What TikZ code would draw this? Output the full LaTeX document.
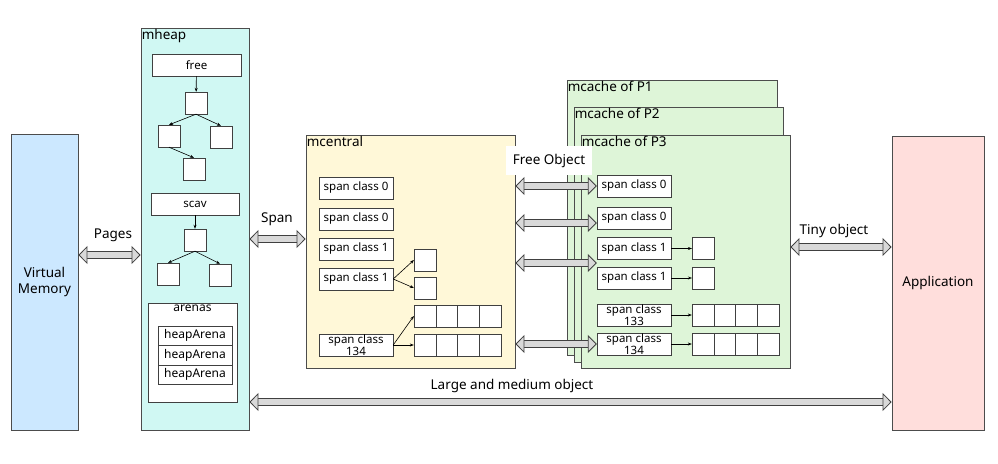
\documentclass[tikz,border=0pt]{standalone}
\usepackage{fontspec}
\setmainfont{Noto Sans}
\usetikzlibrary{arrows.meta}

\definecolor{vmblue}{HTML}{CCE8FF}
\definecolor{heapcyan}{HTML}{D0F8F3}
\definecolor{centralyellow}{HTML}{FFF8D8}
\definecolor{cachegreen}{HTML}{DEF5D8}
\definecolor{apppink}{HTML}{FFDEDC}
\definecolor{arrowgray}{HTML}{D9D9D9}

\begin{document}
\begin{tikzpicture}[x=1pt, y=-1pt,
    box/.style={draw=black!75, fill=white, inner sep=0pt, font=\fontsize{11.5}{11}\selectfont},
    spanbox/.style={box, minimum width=74pt, minimum height=22pt, align=center},
    cell/.style={box, minimum width=21.75pt, minimum height=22pt},
    area/.style={draw=black!70, line width=0.8pt, inner sep=0pt, align=center, font=\fontsize{13.5}{16}\selectfont},
    title/.style={anchor=north west, inner sep=1pt, font=\fontsize{13.5}{15}\selectfont},
    fat/.style={draw=black!75, line width=0.8pt, double=arrowgray, double distance=6pt,
        {Triangle[open, fill=arrowgray, length=9pt, width=18pt, line width=0.8pt]}-{Triangle[open, fill=arrowgray, length=9pt, width=18pt, line width=0.8pt]}},
    link/.style={draw=black, line width=0.6pt, -{Stealth[length=4pt, width=3pt]}},
    arrowtext/.style={inner sep=1pt, font=\fontsize{13.5}{15}\selectfont}]

    \useasboundingbox (0,0) rectangle (998,463);

    % outer memory and application
    \node[area, fill=vmblue, minimum width=67pt, minimum height=296pt] (vm) at (44.5,282) {Virtual\\Memory};
    \node[area, fill=apppink, minimum width=92pt, minimum height=294pt] (app) at (938,283) {Application};

    % mheap
    \node[area, fill=heapcyan, minimum width=108pt, minimum height=402pt,
        label={[title]north west:mheap}] (mheap) at (195,229) {};
    \node[box, minimum width=89pt, minimum height=22pt] (free) at (196.5,65) {free};
    \node[cell, minimum width=22pt] (f1) at (196,103) {};
    \node[cell, minimum width=22pt] (f2) at (169,136) {};
    \node[cell, minimum width=22pt] (f3) at (221,137) {};
    \node[cell, minimum width=22pt] (f4) at (194,169) {};
    \draw[link] (free) -- (f1);
    \draw[link] (f1.south) -- (f2.north);
    \draw[link] (f1.south) -- (f3.north);
    \draw[link] (f2.south) -- (f4.north);

    \node[box, minimum width=88pt, minimum height=22pt] (scav) at (195,204) {scav};
    \node[cell, minimum width=22pt] (s1) at (195,240) {};
    \node[cell, minimum width=22pt] (s2) at (168,274) {};
    \node[cell, minimum width=22pt] (s3) at (220,275) {};
    \draw[link] (scav) -- (s1);
    \draw[link] (s1.south) -- (s2.north);
    \draw[link] (s1.south) -- (s3.north);

    \node[box, minimum width=89pt, minimum height=99pt,
        label={[anchor=north, inner sep=2pt, font=\fontsize{12}{14}\selectfont]north:arenas}] (arenas) at (192.5,352.5) {};
    \foreach \y [count=\i] in {335.75,355.25,374.75}
        \node[box, minimum width=74pt, minimum height=19.5pt, font=\fontsize{12}{12}\selectfont] (ha\i) at (195,\y) {heapArena};

    % mcentral
    \node[area, fill=centralyellow, minimum width=209pt, minimum height=233pt,
        label={[title]north west:mcentral}] (mcentral) at (410.5,251.5) {};
    \node[spanbox] (m0) at (356,188) {span class 0};
    \node[spanbox] (m1) at (356,219) {span class 0};
    \node[spanbox] (m2) at (356,249) {span class 1};
    \node[spanbox] (m3) at (356,279) {span class 1};
    \node[spanbox] (m134) at (356,345) {span class\\134};
    \node[cell] (msq1) at (425,260) {};
    \node[cell] (msq2) at (425,288) {};
    \foreach \i in {0,...,3} {
        \node[cell] (cr1-\i) at (424.9+21.75*\i,316) {};
        \node[cell] (cr2-\i) at (424.9+21.75*\i,345) {};
    }
    \draw[link] (m3.east) -- (msq1.west);
    \draw[link] (m3.east) -- (msq2.west);
    \draw[link] (m134.east) -- (cr1-0.west);
    \draw[link] (m134.east) -- (cr2-0.west);

    % mcache per P
    \node[area, fill=cachegreen, minimum width=210pt, minimum height=275pt,
        label={[title]north west:mcache of P1}] (p1) at (672,217.5) {};
    \node[area, fill=cachegreen, minimum width=209pt, minimum height=255pt,
        label={[title]north west:mcache of P2}] (p2) at (678.5,234.5) {};
    \node[area, fill=cachegreen, minimum width=209pt, minimum height=233pt,
        label={[title]north west:mcache of P3}] (p3) at (685.5,251.5) {};
    \node[spanbox] (k0) at (634,186) {span class 0};
    \node[spanbox] (k1) at (634,218) {span class 0};
    \node[spanbox] (k2) at (634,248.5) {span class 1};
    \node[spanbox] (k3) at (634,278) {span class 1};
    \node[spanbox] (k133) at (634,315) {span class\\133};
    \node[spanbox] (k134) at (634,344) {span class\\134};
    \node[cell] (ksq1) at (703,248.5) {};
    \node[cell] (ksq2) at (703,278) {};
    \foreach \i in {0,...,3} {
        \node[cell] (kr1-\i) at (702.9+21.75*\i,315) {};
        \node[cell] (kr2-\i) at (702.9+21.75*\i,344) {};
    }
    \draw[link] (k2.east) -- (ksq1.west);
    \draw[link] (k3.east) -- (ksq2.west);
    \draw[link] (k133.east) -- (kr1-0.west);
    \draw[link] (k134.east) -- (kr2-0.west);

    % transfers
    \node[arrowtext, fill=white, minimum width=86pt, minimum height=29pt] (freeobj) at (549,160.5) {Free Object};
    \draw[fat] (vm.east |- 0,255) -- (mheap.west |- 0,255);
    \node[arrowtext] (pages) at (113,235) {Pages};
    \draw[fat] (mheap.east |- 0,239) -- (mcentral.west |- 0,239);
    \node[arrowtext] (span) at (277,219) {Span};
    \draw[fat] (mcentral.east |- k0.west) -- (k0.west);
    \draw[fat] (mcentral.east |- 0,223) -- (k1.west |- 0,223);
    \draw[fat] (mcentral.east |- 0,263) -- (k2.west |- 0,263);
    \draw[fat] (mcentral.east |- k134.west) -- (k134.west);
    \draw[fat] (p3.east |- 0,247) -- (app.west |- 0,247);
    \node[arrowtext] (tiny) at (834,231) {Tiny object};
    \draw[fat] (mheap.east |- 0,402) -- (app.west |- 0,402);
    \node[arrowtext] (large) at (512,386) {Large and medium object};

\end{tikzpicture}
\end{document}
